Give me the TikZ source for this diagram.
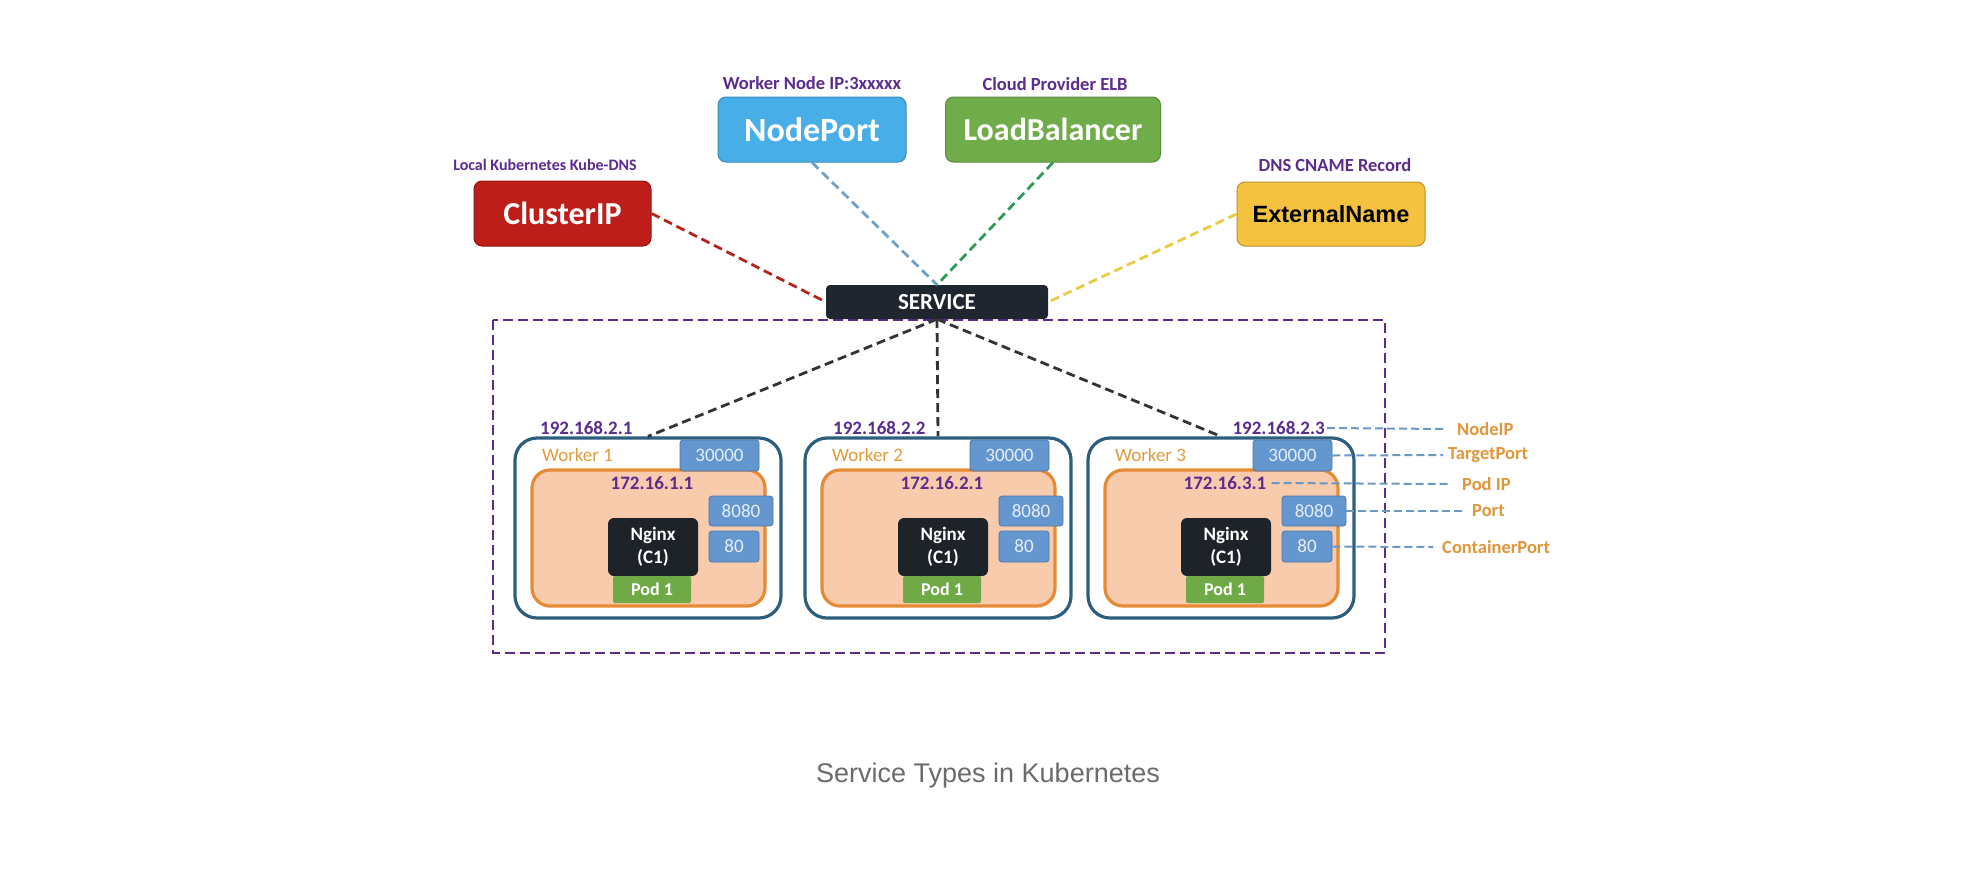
\documentclass[tikz,border=0pt]{standalone}
\usepackage{fontspec}
\setmainfont{Carlito}
\newfontfamily\capfont{Liberation Sans}
\newfontfamily\arialfont{Liberation Sans}
\usetikzlibrary{calc}
\newcommand\myfs[1]{\fontsize{#1}{#1}\selectfont}
\definecolor{purp}{HTML}{5B2B90}
\definecolor{cipred}{HTML}{BE1E1A}
\definecolor{npblue}{HTML}{48AEE7}
\definecolor{lbgreen}{HTML}{71AC4A}
\definecolor{engold}{HTML}{F4C23E}
\definecolor{svcdark}{HTML}{20262F}
\definecolor{wblue}{HTML}{2E5E7E}
\definecolor{orng}{HTML}{E68A35}
\definecolor{peach}{HTML}{F8CBAD}
\definecolor{portblue}{HTML}{6496CF}
\definecolor{porttext}{HTML}{E6EEF8}
\definecolor{nginxdark}{HTML}{1E2229}
\definecolor{podgreen}{HTML}{6FAA46}
\definecolor{wtext}{HTML}{E39A3C}
\definecolor{annoline}{HTML}{6A98C5}
\definecolor{annotext}{HTML}{E0963A}
\definecolor{cipline}{HTML}{B3261E}
\definecolor{npline}{HTML}{6FA0C8}
\definecolor{lbline}{HTML}{2F9A5A}
\definecolor{enline}{HTML}{E9CC45}
\definecolor{wline}{HTML}{333333}
\definecolor{capgray}{HTML}{6B6B6B}
\tikzset{
  typebox/.style={rounded corners=8pt, inner sep=0pt, line width=1pt, font=\bfseries\myfs{32}, text=white, minimum height=65pt},
  toplbl/.style={font=\bfseries\myfs{18.5}, text=purp, inner sep=0pt},
  conn/.style={line width=2.8pt, dash pattern=on 9pt off 5pt},
  workerbox/.style={draw=wblue, line width=3.2pt, rounded corners=22pt, minimum width=266pt, minimum height=180pt, inner sep=0pt},
  podarea/.style={draw=orng, fill=peach, line width=3.2pt, rounded corners=18pt, minimum width=233pt, minimum height=136pt, inner sep=0pt},
  portbox/.style={fill=portblue, draw=portblue!80!black, line width=0.8pt, rounded corners=3pt, text=porttext, font=\myfs{19}, inner sep=0pt},
  iplbl/.style={font=\bfseries\myfs{19}, text=purp, inner sep=0pt},
  nginxbox/.style={fill=nginxdark, rounded corners=6pt, minimum width=90pt, minimum height=58pt, text=white, font=\bfseries\fontsize{19}{23}\selectfont, align=center, inner sep=0pt},
  podbox/.style={fill=podgreen, rounded corners=2pt, minimum width=78pt, minimum height=27pt, text=white, font=\bfseries\myfs{18}, inner sep=0pt},
  wlbl/.style={text=wtext, font=\myfs{19}, inner sep=0pt, anchor=west},
  annolbl/.style={text=annotext, font=\bfseries\myfs{18.5}, inner sep=0pt, anchor=west},
  anno/.style={draw=annoline, line width=2pt, dash pattern=on 8pt off 4pt}
}
\begin{document}
\begin{tikzpicture}[x=1pt,y=-1pt]
\useasboundingbox (0,0) rectangle (1978,868);
\fill[white] (0,0) rectangle (1978,868);

% cluster boundary
\draw[purp, line width=2.8pt, dash pattern=on 10pt off 5pt] (493,320) rectangle (1385,653);

% service type boxes
\node[typebox, fill=cipred, draw=cipred!75!black, minimum width=177pt] (cip) at (562.5,213.5) {ClusterIP};
\node[typebox, fill=npblue, draw=npblue!80!black, minimum width=188pt, font=\bfseries\myfs{34}] (np) at (812,129.5) {NodePort};
\node[typebox, fill=lbgreen, draw=lbgreen!80!black, minimum width=215pt] (lb) at (1053,129.5) {LoadBalancer};
\node[typebox, fill=engold, draw=engold!75!black, minimum width=188pt, minimum height=64pt, text=black, font=\arialfont\bfseries\myfs{23.5}] (en) at (1331,214) {ExternalName};

\node[toplbl, font=\bfseries\myfs{16}] (cipl) at (545,165) {Local Kubernetes Kube-DNS};
\node[toplbl] (npl) at (812,83) {Worker Node IP:3xxxxx};
\node[toplbl] (lbl) at (1055,84) {Cloud Provider ELB};
\node[toplbl] (enl) at (1335,165) {DNS CNAME Record};

% service
\node[fill=svcdark, rounded corners=4pt, minimum width=222pt, minimum height=34pt, inner sep=0pt, text=white, font=\bfseries\myfs{23}] (svc) at (937,302) {SERVICE};

\draw[conn, cipline] (cip.east) -- (svc.west);
\draw[conn, npline] (np.south) -- (svc.north);
\draw[conn, lbline] (lb.south) -- (svc.north);
\draw[conn, enline] (en.west) -- (svc.east);

% workers
\foreach \i/\L in {1/515, 2/805, 3/1088} {
  \node[workerbox] (w\i) at (\L+133,528) {};
  \node[podarea] (pa\i) at (\L+133.5,538) {};
  \node[portbox, minimum width=79pt, minimum height=31pt] (pt\i) at (\L+204.5,455.5) {30000};
  \node[portbox, minimum width=64pt, minimum height=30pt] (pp\i) at (\L+226,511) {8080};
  \node[portbox, minimum width=50pt, minimum height=31pt] (pc\i) at (\L+219,546.5) {80};
  \node[nginxbox] (ng\i) at (\L+138,547) {Nginx\\(C1)};
  \node[podbox] (pod\i) at (\L+137,589.5) {Pod 1};
  \node[wlbl] (wt\i) at (\L+27,455) {Worker \i};
  \node[iplbl] (pip\i) at (\L+137,483) {172.16.\i.1};
  \draw[conn, wline] (svc.south) -- (w\i.north);
}
\node[iplbl, anchor=west] (nip1) at (540,428) {192.168.2.1};
\node[iplbl, anchor=west] (nip2) at (833,428) {192.168.2.2};
\node[iplbl, anchor=east] (nip3) at (1325,428) {192.168.2.3};

% annotations
\node[annolbl] (aNodeIP) at (1457,429) {NodeIP};
\node[annolbl] (aTarget) at (1448,455) {TargetPort};
\node[annolbl] (aPodIP) at (1462,484) {Pod IP};
\node[annolbl] (aPort) at (1472,511) {Port};
\node[annolbl] (aCont) at (1442,547) {ContainerPort};
\draw[anno] ([xshift=2pt]nip3.east) -- ([xshift=-11pt]aNodeIP.west);
\draw[anno] (pt3.east) -- ([xshift=-5pt]aTarget.west);
\draw[anno] ([xshift=5pt]pip3.east) -- ([xshift=-12pt]aPodIP.west);
\draw[anno] (pp3.east) -- ([xshift=-9pt]aPort.west);
\draw[anno] (pc3.east) -- ([xshift=-9pt]aCont.west);

% caption
\node[font=\capfont\myfs{27}, text=capgray] (cap) at (988,776) {Service Types in Kubernetes};
\end{tikzpicture}
\end{document}
